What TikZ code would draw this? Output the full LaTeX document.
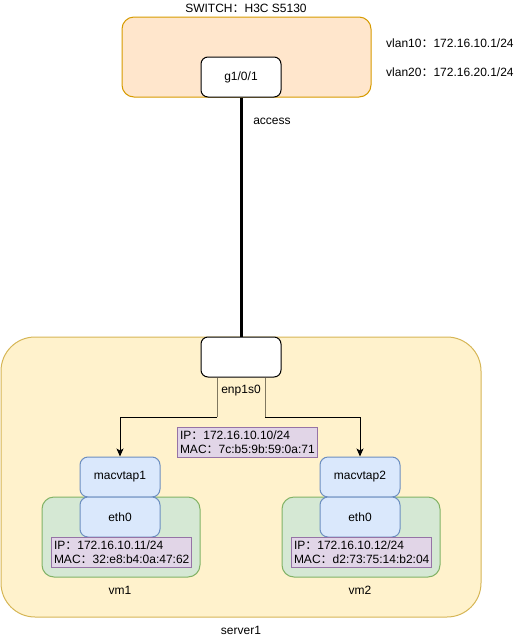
\documentclass[tikz,border=0pt]{standalone}
\usepackage{fontspec}
\setmainfont{Liberation Sans}
\newfontfamily\cjk{Noto Sans CJK SC}
\usepackage{xcolor}
\usetikzlibrary{arrows.meta, positioning, calc}

\definecolor{swfill}{HTML}{FFE6CC}
\definecolor{swdraw}{HTML}{D79B00}
\definecolor{srvfill}{HTML}{FFF2CC}
\definecolor{srvdraw}{HTML}{D6B656}
\definecolor{vmfill}{HTML}{D5E8D4}
\definecolor{vmdraw}{HTML}{82B366}
\definecolor{tapfill}{HTML}{DAE8FC}
\definecolor{tapdraw}{HTML}{6C8EBF}
\definecolor{addrfill}{HTML}{E1D5E7}
\definecolor{addrdraw}{HTML}{9673A6}
\definecolor{linkgray}{HTML}{807860}

\newcommand{\fc}{{\cjk ：}}

\tikzset{
  every node/.style={font=\fontsize{12}{14}\selectfont, inner sep=0pt},
  port/.style={draw, fill=white, line width=1pt, rounded corners=7pt,
    minimum width=80pt, minimum height=40pt},
  tapbox/.style={draw=tapdraw, fill=tapfill, line width=1pt, rounded corners=8pt,
    minimum width=80pt, minimum height=40pt},
  addrbox/.style={draw=addrdraw, fill=addrfill, line width=1pt,
    minimum width=140pt, minimum height=30pt, text width=134pt, align=left},
  link/.style={line width=1pt},
  tip/.style={-{Stealth[length=8pt, width=7pt, inset=2pt]}},
}

\begin{document}
\begin{tikzpicture}[x=1pt, y=-1pt]
\useasboundingbox (0,0) rectangle (522,638);

% Switch
\node[draw=swdraw, fill=swfill, line width=1pt, rounded corners=12pt,
  minimum width=249pt, minimum height=80pt] (switch) at (246.5,57) {};
\node (swname) at (246,8) {SWITCH\fc H3C S5130};
\node[port] (gport) at (241,77) {g1/0/1};
\node[anchor=west] (vlan10) at (386,43) {vlan10\fc 172.16.10.1/24};
\node[anchor=west] (vlan20) at (386,72) {vlan20\fc 172.16.20.1/24};

% Server
\node[draw=srvdraw, fill=srvfill, line width=1pt, rounded corners=34pt,
  minimum width=480pt, minimum height=280pt] (server) at (241,477) {};
\node (srvname) at (241,630) {server1};
\node[port] (enp) at (241,357) {};
\node (enpname) at (241,391) {enp1s0};
\node[addrbox] (hostaddr) at (247,442) {IP\fc 172.16.10.10/24\\MAC\fc 7c:b5:9b:59:0a:71};

% Uplink
\draw[line width=3pt] (gport) -- (enp);
\node (access) at (272,121) {access};

% VMs
\foreach \n/\x/\ip/\mac in {1/120/{172.16.10.11/24}/{32:e8:b4:0a:47:62},
                            2/360/{172.16.10.12/24}/{d2:73:75:14:b2:04}} {
  \node[draw=vmdraw, fill=vmfill, line width=1pt, rounded corners=12pt,
    minimum width=158pt, minimum height=80pt] (vm\n) at (\x+1,537) {};
  \node[tapbox] (mac\n) at (\x,477) {macvtap\n};
  \node[tapbox] (eth\n) at (\x,517) {eth0};
  \node[addrbox] (addr\n) at (\x+1,552) {IP\fc \ip\\MAC\fc \mac};
  \node (vmname\n) at (\x,590) {vm\n};
}

% macvtap links
\coordinate (kL) at (217,417);
\coordinate (kR) at (265,417);
\draw[link, linkgray] (enp.south -| kL) -- (kL);
\draw[link, linkgray] (enp.south -| kR) -- (kR);
\draw[link, tip] (kL) -| (mac1);
\draw[link, tip] (kR) -| (mac2);
\end{tikzpicture}
\end{document}
